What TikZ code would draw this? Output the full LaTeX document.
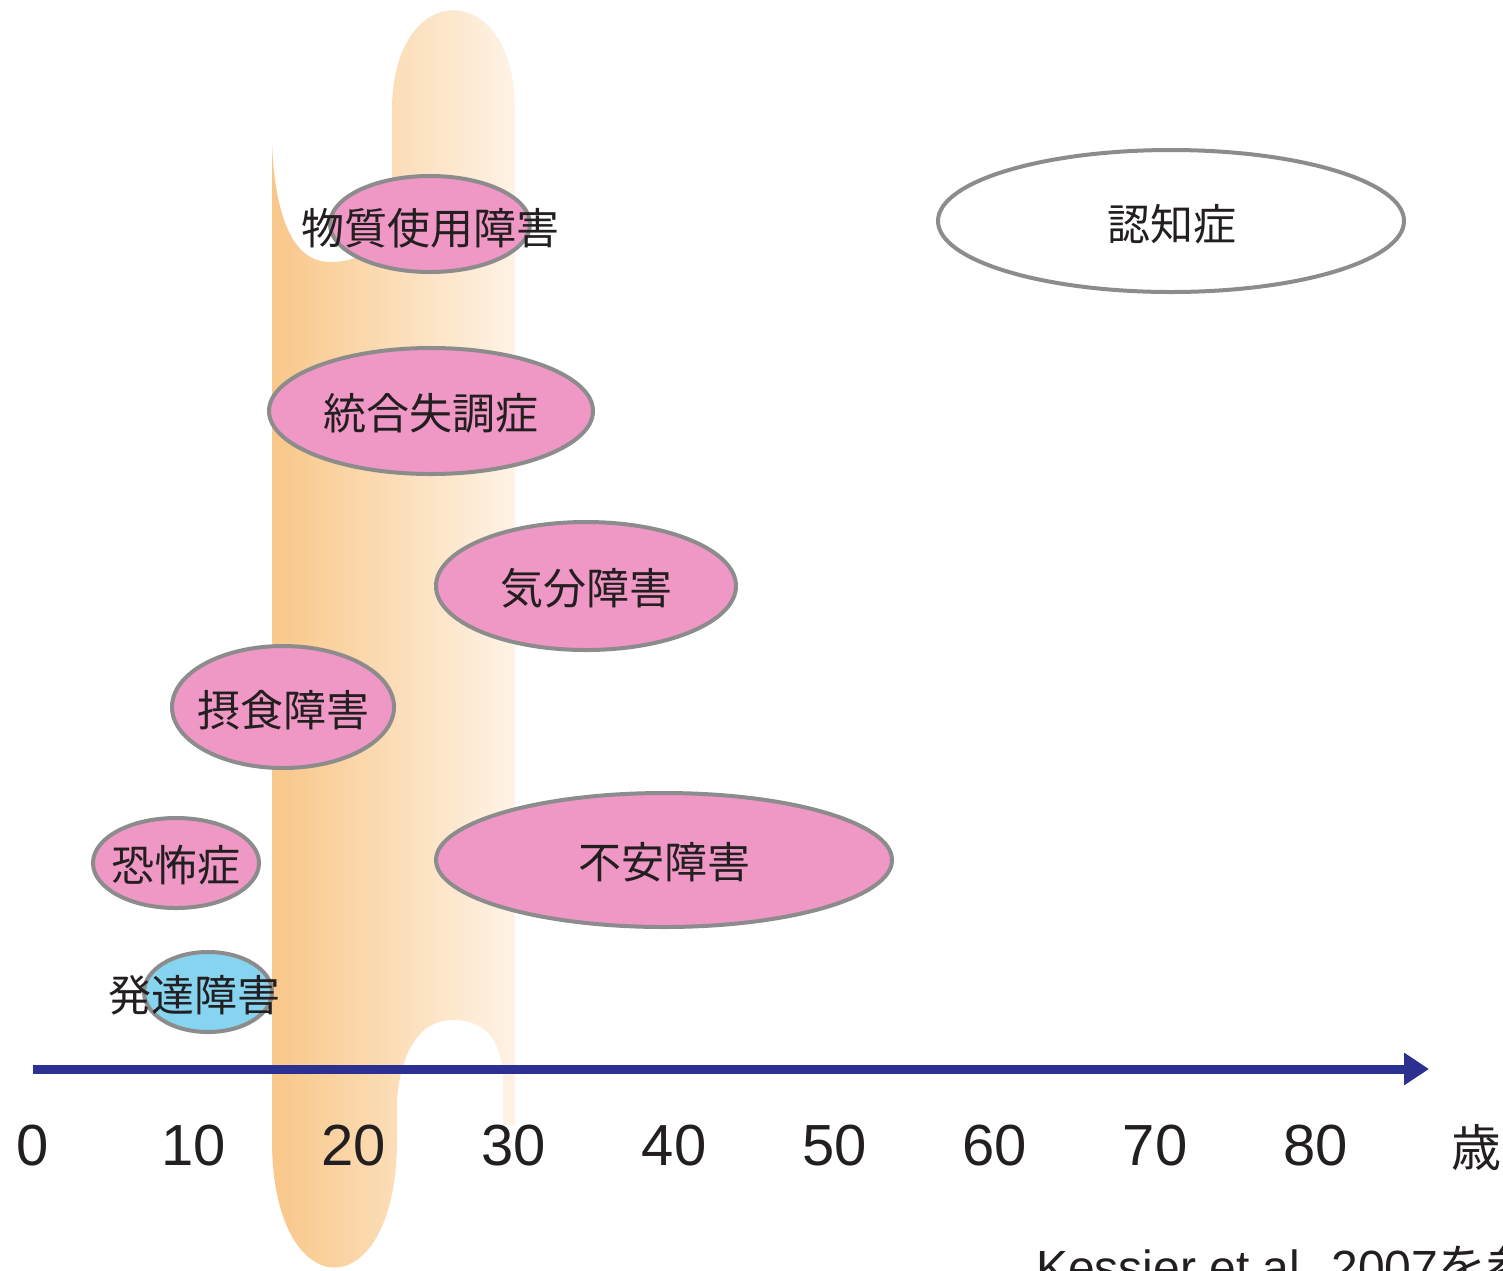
\documentclass[tikz,border=0pt]{standalone}
\usepackage{fontspec}
\setmainfont{Liberation Sans}
\newfontfamily\jp{Noto Sans CJK JP}
\usetikzlibrary{shapes.geometric,arrows.meta}
\definecolor{pinkfill}{RGB}{240,152,197}
\definecolor{bluefill}{RGB}{135,212,240}
\definecolor{edgegray}{RGB}{140,140,140}
\definecolor{axisblue}{RGB}{44,48,145}
\definecolor{orA}{RGB}{249,199,137}
\definecolor{orB}{RGB}{252,222,184}
\definecolor{orC}{RGB}{254,243,230}
\definecolor{txt}{RGB}{35,31,32}
\tikzset{
  ell/.style={ellipse, draw=edgegray, line width=4pt, inner sep=0pt},
  pinkell/.style={ell, fill=pinkfill},
  jplabel/.style={font=\jp\fontsize{43}{50}\selectfont, text=txt, inner sep=0pt},
  ticklabel/.style={font=\fontsize{58}{64}\selectfont, text=txt, inner sep=0pt},
  axisline/.style={draw=axisblue, line width=9pt, -{Triangle[length=25pt,width=31pt]}},
}
\begin{document}
\begin{tikzpicture}[x=1pt,y=-1pt]
\useasboundingbox (0,0) rectangle (1503,1270);
\clip (0,0) rectangle (1503,1270);
\fill[white] (0,0) rectangle (1503,1270);

% orange age band
\shade[left color=orA, middle color=orB, right color=orC]
  (272,145) -- (272,1140) .. controls (272,1310) and (397,1310) .. (397,1140)
  -- (397,1100) .. controls (400,1060) and (415,1020) .. (453,1020)
  .. controls (492,1020) and (503,1050) .. (503,1080) -- (503,1125) -- (515,1125)
  -- (515,110) .. controls (515,-23) and (392,-23) .. (392,110)
  -- (392,200) .. controls (380,250) and (360,262) .. (330,262)
  .. controls (290,262) and (275,210) .. (272,145) -- cycle;

% disorders
\node[pinkell, minimum width=200pt, minimum height=96pt] (e1) at (430,224) {};
\node[jplabel] (t1) at (430,228) {物質使用障害};

\node[pinkell, minimum width=324pt, minimum height=126pt] (e2) at (431,411) {};
\node[jplabel] (t2) at (431,413) {統合失調症};

\node[pinkell, minimum width=300pt, minimum height=128pt] (e3) at (586,586) {};
\node[jplabel] (t3) at (586,588) {気分障害};

\node[pinkell, minimum width=222pt, minimum height=122pt] (e4) at (283,707) {};
\node[jplabel] (t4) at (283,710) {摂食障害};

\node[pinkell, minimum width=166pt, minimum height=90pt] (e5) at (176,863) {};
\node[jplabel] (t5) at (176,865) {恐怖症};

\node[pinkell, minimum width=456pt, minimum height=134pt] (e6) at (664,860) {};
\node[jplabel] (t6) at (664,862) {不安障害};

\node[ell, fill=bluefill, minimum width=128pt, minimum height=80pt] (e7) at (208,992) {};
\node[jplabel] (t7) at (194,995) {発達障害};

\node[ell, fill=white, minimum width=466pt, minimum height=142pt] (e8) at (1171,221) {};
\node[jplabel] (t8) at (1172,224) {認知症};

% axis
\coordinate (ax0) at (33,1069);
\coordinate (ax1) at (1429,1069);
\draw[axisline] (ax0) -- (ax1);

% tick labels
\foreach \k/\lab in {0/0,1/10,2/20,3/30,4/40,5/50,6/60,7/70,8/80}{
  \node[ticklabel] (tick\k) at ({33+160.3*\k},1146) {\lab};
}
\node[jplabel, font=\jp\fontsize{50}{56}\selectfont] (unit) at (1476,1148) {歳};

% source
\node[anchor=base west, inner sep=0pt, text=txt, font=\fontsize{48}{54}\selectfont] (src) at (1036,1284) {Kessier et al. 2007{\jp を参考に作成}};
\end{tikzpicture}
\end{document}
